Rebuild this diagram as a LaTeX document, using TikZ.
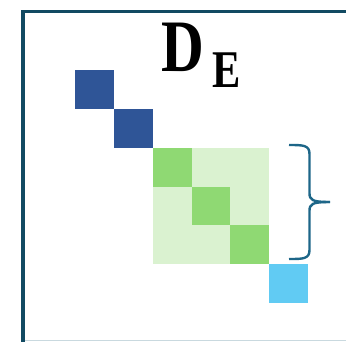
\documentclass[tikz,border=0pt]{standalone}
\usepackage{fontspec}
\setmainfont{Liberation Serif}
\definecolor{frameC}{HTML}{124A62}
\definecolor{braceC}{HTML}{1D6688}
\definecolor{dblue}{HTML}{2F5597}
\definecolor{dgreen}{HTML}{8FD973}
\definecolor{lgreen}{HTML}{DAF2D0}
\definecolor{lblue}{HTML}{61CBF3}
\definecolor{faint}{HTML}{C9D9DF}
\begin{document}
\begin{tikzpicture}[x=1pt,y=-1pt,
  cell/.style={draw=none},
  lbl/.style={inner sep=0pt,anchor=base west,font=\bfseries}]
\useasboundingbox (0,0) rectangle (346,341);
\clip (0,0) rectangle (346,341);
% frame
\draw[faint,line width=1pt] (25,340.5) -- (346,340.5);
\draw[frameC,line width=3.5pt] (23,345) -- (23,11.5) -- (350,11.5);
% blocks
\fill[dblue] (75,70) rectangle (114,109);
\fill[dblue] (114,109) rectangle (153,148);
\fill[lgreen] (153,148) rectangle (269,264);
\fill[dgreen] (153,148) rectangle (191.7,186.7);
\fill[dgreen] (191.7,186.7) rectangle (230.3,225.3);
\fill[dgreen] (230.3,225.3) rectangle (269,264);
\fill[lblue] (269,264) rectangle (308,303);
% brace
\draw[braceC,line width=2.4pt,line cap=butt]
  (289,145) .. controls (303,145) and (309.5,145) .. (309.5,154)
  -- (309.5,193) .. controls (309.5,200) and (312,202) .. (330,202);
\draw[braceC,line width=2.4pt,line cap=butt]
  (289,259) .. controls (303,259) and (309.5,259) .. (309.5,250)
  -- (309.5,211) .. controls (309.5,204) and (312,202) .. (330,202);
% label
\node[lbl,font=\bfseries\fontsize{74}{74}\selectfont] (D) at (161,71.7) {\scalebox{0.8}[1]{D}};
\node[lbl,font=\bfseries\fontsize{53}{53}\selectfont] (E) at (212.5,87) {\scalebox{0.8}[1]{E}};
\end{tikzpicture}
\end{document}
